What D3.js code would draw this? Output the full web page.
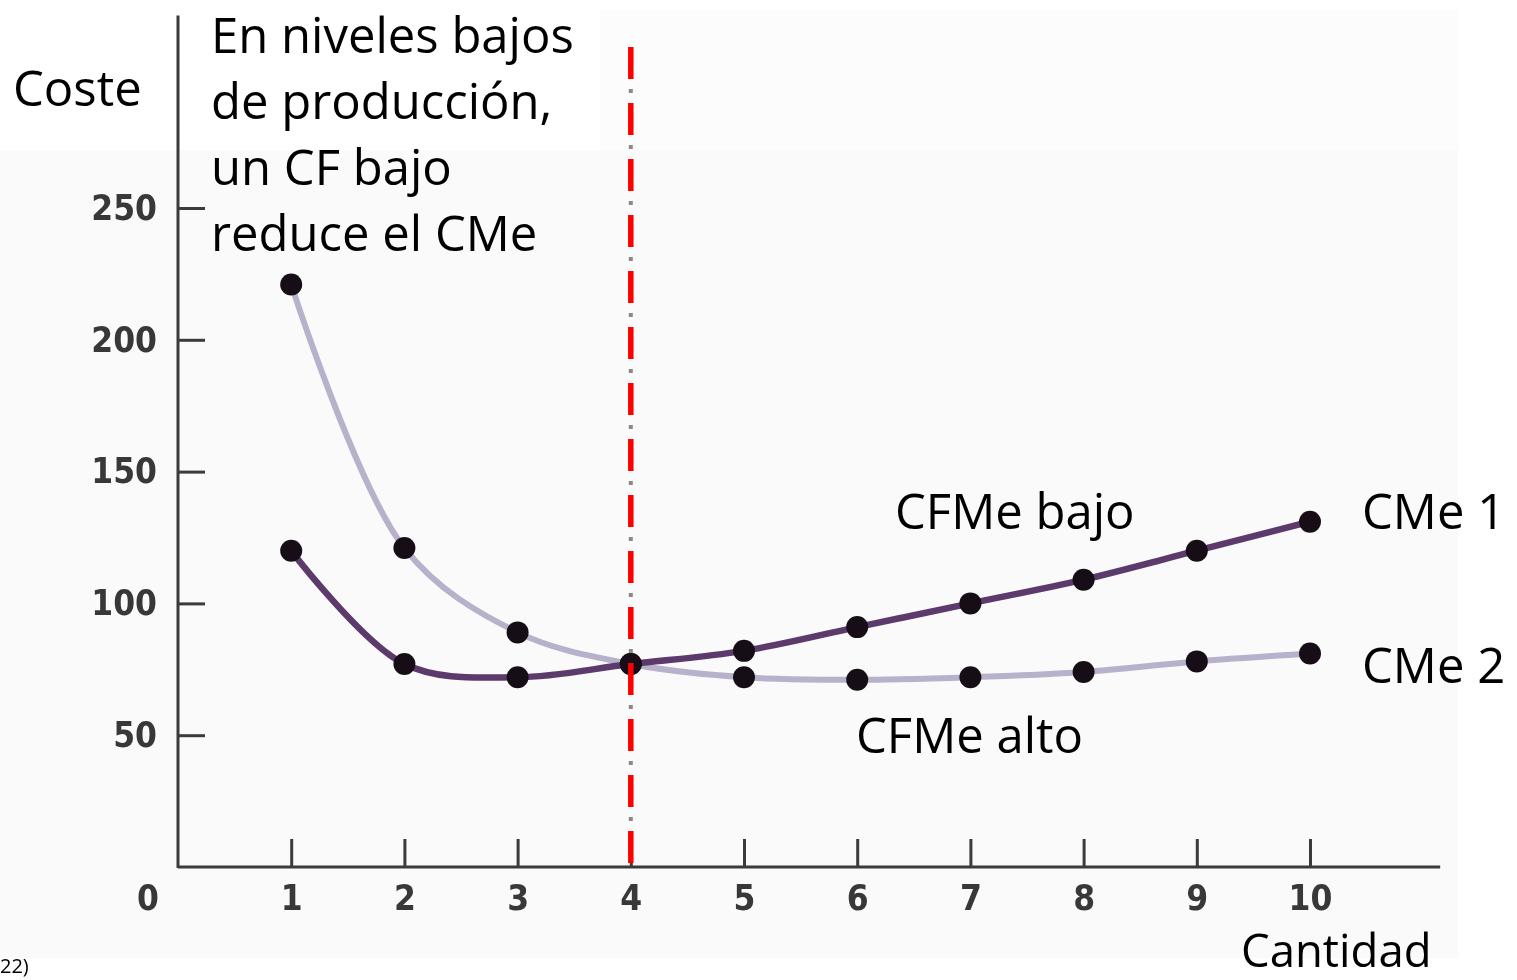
<!DOCTYPE html>
<html>
<head>
<meta charset="utf-8">
<script src="https://cdn.jsdelivr.net/npm/d3@7"></script>
<style>
  html, body { margin: 0; padding: 0; background: #ffffff; }
  svg { display: block; }
</style>
</head>
<body>
<svg id="chart" width="1517" height="980"></svg>
<script>
// Quantity levels and average-cost values for the two plants
const quantities = [1, 2, 3, 4, 5, 6, 7, 8, 9, 10];
const cme1 = [120, 77, 72, 77, 82, 91, 100, 109, 120, 131];   // low fixed cost
const cme2 = [221, 121, 89, 77, 72, 71, 72, 74, 78, 81];      // high fixed cost
const xTicks = [1, 2, 3, 4, 5, 6, 7, 8, 9, 10];
const yTicks = [50, 100, 150, 200, 250];
const crossover = 4;
const noteLines = ["En niveles bajos", "de producción,", "un CF bajo", "reduce el CMe"];

const svg = d3.select("#chart");

const x = d3.scaleLinear().domain([0, 10]).range([178, 1310]);
const y = d3.scaleLinear().domain([0, 250]).range([867, 208]);

const defs = svg.append("defs");
defs.append("filter").attr("id", "soft")
  .attr("x", "-5%").attr("y", "-5%").attr("width", "110%").attr("height", "110%")
  .append("feGaussianBlur").attr("stdDeviation", 0.7);

// faint paper tone of the printed figure
svg.append("rect").attr("x", 0).attr("y", 150).attr("width", 1458).attr("height", 808)
  .attr("fill", "#fafafa");
svg.append("rect").attr("x", 600).attr("y", 10).attr("width", 858).attr("height", 140)
  .attr("fill", "#fcfcfc");

const plot = svg.append("g").attr("filter", "url(#soft)");

const axisColor = "#3a3a3a";
const tickFont = "'DejaVu Sans Condensed', 'DejaVu Sans', sans-serif";

// axis lines
plot.append("line")
  .attr("x1", x(0)).attr("x2", x(0))
  .attr("y1", y(0) + 1).attr("y2", y(323))
  .attr("stroke", axisColor).attr("stroke-width", 3);
plot.append("line")
  .attr("x1", x(0)).attr("x2", x(11.15))
  .attr("y1", y(0)).attr("y2", y(0))
  .attr("stroke", axisColor).attr("stroke-width", 3);

// x axis ticks (pointing up) and labels
const xAxis = d3.axisBottom(x).tickValues(xTicks).tickSize(-28).tickPadding(18)
  .tickFormat(d3.format("d")).tickSizeOuter(0);
const gx = plot.append("g").attr("transform", `translate(0,${y(0)})`).call(xAxis);
gx.select(".domain").remove();
gx.selectAll(".tick line").attr("stroke", axisColor).attr("stroke-width", 3);
gx.selectAll(".tick text")
  .attr("fill", "#383838").attr("font-family", tickFont)
  .attr("font-size", 35).attr("font-weight", "bold").attr("dy", "0.72em");

// y axis ticks (pointing right) and labels
const yAxis = d3.axisLeft(y).tickValues(yTicks).tickSize(-27).tickPadding(21)
  .tickFormat(d3.format("d")).tickSizeOuter(0);
const gy = plot.append("g").attr("transform", `translate(${x(0)},0)`).call(yAxis);
gy.select(".domain").remove();
gy.selectAll(".tick line").attr("stroke", axisColor).attr("stroke-width", 3);
gy.selectAll(".tick text")
  .attr("fill", "#383838").attr("font-family", tickFont)
  .attr("font-size", 35).attr("font-weight", "bold");

// origin label
plot.append("text")
  .attr("x", x(0) - 30).attr("y", y(0) + 18).attr("dy", "0.72em")
  .attr("text-anchor", "middle")
  .attr("fill", "#383838").attr("font-family", tickFont)
  .attr("font-size", 35).attr("font-weight", "bold")
  .text("0");

// cost curves
const line = d3.line()
  .x((d, i) => x(quantities[i]))
  .y(d => y(d))
  .curve(d3.curveCatmullRom.alpha(0.5));

plot.append("path").datum(cme2)
  .attr("d", line).attr("fill", "none")
  .attr("stroke", "#b8b1cb").attr("stroke-width", 6);
plot.append("path").datum(cme1)
  .attr("d", line).attr("fill", "none")
  .attr("stroke", "#5b3b6c").attr("stroke-width", 6.5);

// data points
[cme2, cme1].forEach(series => {
  plot.append("g").selectAll("circle").data(series).join("circle")
    .attr("cx", (d, i) => x(quantities[i]))
    .attr("cy", d => y(d))
    .attr("r", 11)
    .attr("fill", "#141014");
});

// crossover marker: grey dotted guide under a red dashed line
const guideTop = 47, guideBottom = y(0) - 2;
svg.append("line")
  .attr("x1", x(crossover)).attr("x2", x(crossover))
  .attr("y1", guideTop).attr("y2", guideBottom)
  .attr("stroke", "#8a8a8a").attr("stroke-width", 4)
  .attr("stroke-dasharray", "4,52").attr("stroke-dashoffset", -42);
svg.append("line")
  .attr("x1", x(crossover)).attr("x2", x(crossover))
  .attr("y1", guideTop).attr("y2", guideBottom)
  .attr("stroke", "#ff0000").attr("stroke-width", 5.5)
  .attr("stroke-dasharray", "32,24");

// captions
const capFont = "'Open Sans', 'Noto Sans', sans-serif";
function caption(txt, px, py, size) {
  return svg.append("text")
    .attr("x", px).attr("y", py)
    .attr("font-family", capFont).attr("font-size", size || 49)
    .attr("fill", "#000")
    .text(txt);
}

caption("Coste", 13, 106);
noteLines.forEach((t, i) => caption(t, 211, 53 + i * 66));
caption("CFMe bajo", 895, 529);
caption("CFMe alto", 856, 753);
caption("CMe 1", 1362, 529);
caption("CMe 2", 1362, 683);
caption("Cantidad", 1241, 967, 45.5);

svg.append("text")
  .attr("x", 0).attr("y", 973)
  .attr("font-family", capFont).attr("font-size", 20)
  .attr("fill", "#000")
  .text("22)");
</script>
</body>
</html>
